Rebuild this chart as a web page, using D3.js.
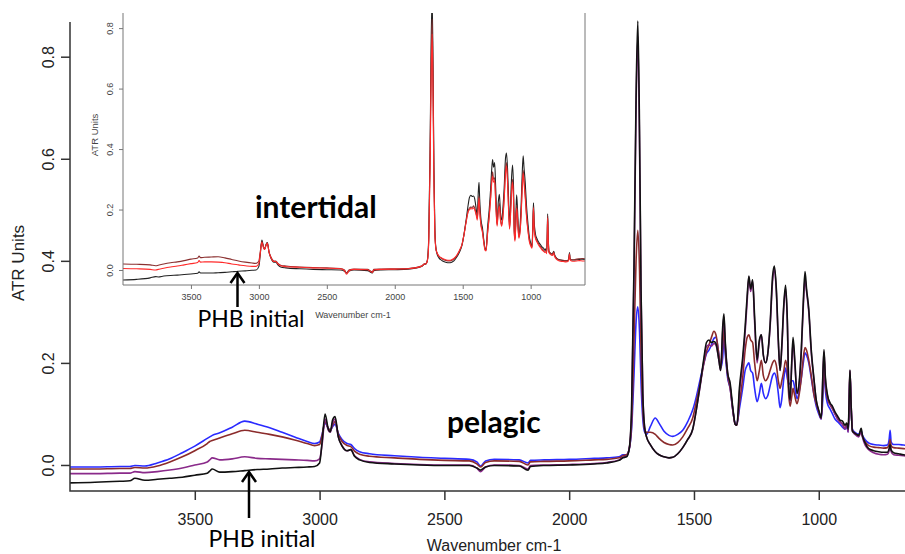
<!DOCTYPE html>
<html>
<head>
<meta charset="utf-8">
<script src="https://cdn.jsdelivr.net/npm/d3@7"></script>
<style>
  body { margin: 0; background: #fff; }
  svg { display: block; }
</style>
</head>
<body>
<div id="chart"></div>
<script>
// FTIR spectra (ATR units vs wavenumber), main = pelagic, inset = intertidal

// shared wavenumber grid (cm-1), 10 per line
const wavenumbers = [
  4000, 3900, 3800, 3760, 3740, 3700, 3650, 3600, 3550, 3500,
  3450, 3440, 3430, 3400, 3350, 3300, 3250, 3200, 3150, 3100,
  3050, 3020, 3000, 2990, 2978, 2965, 2957, 2948, 2938, 2925,
  2910, 2890, 2875, 2860, 2840, 2800, 2700, 2600, 2500, 2400,
  2370, 2355, 2335, 2300, 2200, 2165, 2155, 2100, 2000, 1900,
  1850, 1800, 1785, 1770, 1760, 1750, 1740, 1732, 1725, 1718,
  1712, 1705, 1698, 1690, 1675, 1655, 1640, 1620, 1600, 1585,
  1565, 1545, 1525, 1505, 1490, 1475, 1460, 1450, 1440, 1430,
  1420, 1412, 1400, 1393, 1385, 1380, 1375, 1365, 1355, 1345,
  1335, 1328, 1318, 1305, 1295, 1287, 1280, 1273, 1265, 1257,
  1247, 1238, 1230, 1222, 1213, 1205, 1195, 1185, 1178, 1170,
  1162, 1155, 1148, 1140, 1133, 1126, 1120, 1115, 1108, 1103,
  1096, 1087, 1078, 1070, 1062, 1055, 1049, 1040, 1030, 1020,
  1010, 1000, 990, 983, 979, 974, 965, 955, 945, 935,
  925, 915, 905, 895, 888, 882, 878, 875, 871, 865,
  855, 840, 830, 826, 815, 800, 780, 760, 740, 725,
  718, 714, 710, 700, 680, 660, 640, 620, 600
];

// main plot (pelagic)
const pelagicBlue = [
  -0.004, -0.004, -0.003, -0.003, -0.001, -0.002, 0.004, 0.012, 0.024, 0.037,
  0.052, 0.055, 0.058, 0.063, 0.074, 0.086, 0.080, 0.073, 0.064, 0.055,
  0.046, 0.042, 0.045, 0.060, 0.082, 0.072, 0.068, 0.075, 0.080, 0.062,
  0.050, 0.042, 0.040, 0.032, 0.026, 0.022, 0.018, 0.015, 0.013, 0.011,
  0.006, -0.002, 0.008, 0.011, 0.010, 0.004, 0.009, 0.010, 0.011, 0.013,
  0.014, 0.016, 0.020, 0.020, 0.030, 0.070, 0.180, 0.280, 0.310, 0.260,
  0.160, 0.090, 0.065, 0.060, 0.075, 0.092, 0.082, 0.066, 0.058, 0.056,
  0.060, 0.068, 0.085, 0.108, 0.135, 0.168, 0.200, 0.218, 0.225, 0.235,
  0.248, 0.250, 0.215, 0.190, 0.210, 0.250, 0.220, 0.170, 0.150, 0.110,
  0.082, 0.080, 0.110, 0.150, 0.185, 0.195, 0.200, 0.185, 0.180, 0.150,
  0.124, 0.140, 0.160, 0.140, 0.130, 0.135, 0.155, 0.175, 0.180, 0.170,
  0.140, 0.112, 0.130, 0.170, 0.190, 0.170, 0.158, 0.160, 0.165, 0.165,
  0.150, 0.130, 0.145, 0.170, 0.200, 0.220, 0.215, 0.200, 0.170, 0.140,
  0.115, 0.100, 0.090, 0.140, 0.200, 0.150, 0.120, 0.110, 0.100, 0.090,
  0.085, 0.080, 0.074, 0.070, 0.075, 0.065, 0.110, 0.180, 0.120, 0.070,
  0.064, 0.060, 0.068, 0.060, 0.050, 0.043, 0.040, 0.039, 0.038, 0.039,
  0.050, 0.068, 0.045, 0.040, 0.040, 0.039, 0.038, 0.038, 0.037
];
const pelagicBrown = [
  -0.008, -0.008, -0.007, -0.007, -0.005, -0.006, -0.002, 0.006, 0.016, 0.028,
  0.042, 0.046, 0.048, 0.053, 0.061, 0.068, 0.064, 0.060, 0.055, 0.049,
  0.042, 0.038, 0.040, 0.058, 0.085, 0.072, 0.068, 0.078, 0.085, 0.060,
  0.046, 0.038, 0.036, 0.027, 0.021, 0.017, 0.014, 0.011, 0.009, 0.008,
  0.002, -0.004, 0.005, 0.008, 0.007, 0.000, 0.006, 0.007, 0.008, 0.010,
  0.011, 0.014, 0.018, 0.020, 0.030, 0.080, 0.250, 0.400, 0.460, 0.380,
  0.220, 0.110, 0.070, 0.064, 0.064, 0.060, 0.052, 0.044, 0.040, 0.039,
  0.044, 0.055, 0.072, 0.092, 0.125, 0.160, 0.200, 0.222, 0.235, 0.250,
  0.262, 0.255, 0.215, 0.190, 0.230, 0.270, 0.230, 0.175, 0.150, 0.110,
  0.080, 0.078, 0.120, 0.170, 0.225, 0.250, 0.255, 0.245, 0.240, 0.200,
  0.165, 0.185, 0.205, 0.175, 0.165, 0.170, 0.185, 0.200, 0.205, 0.195,
  0.165, 0.150, 0.165, 0.185, 0.205, 0.185, 0.135, 0.115, 0.135, 0.150,
  0.135, 0.120, 0.140, 0.170, 0.210, 0.230, 0.225, 0.205, 0.175, 0.140,
  0.120, 0.105, 0.092, 0.160, 0.215, 0.160, 0.130, 0.118, 0.110, 0.100,
  0.092, 0.085, 0.080, 0.072, 0.080, 0.068, 0.120, 0.183, 0.125, 0.068,
  0.062, 0.058, 0.066, 0.058, 0.046, 0.038, 0.035, 0.034, 0.033, 0.034,
  0.040, 0.050, 0.038, 0.034, 0.033, 0.032, 0.031, 0.030, 0.030
];
const pelagicPurple = [
  -0.017, -0.017, -0.016, -0.016, -0.013, -0.015, -0.013, -0.010, -0.006, 0.000,
  0.006, 0.010, 0.014, 0.010, 0.012, 0.016, 0.013, 0.012, 0.011, 0.010,
  0.009, 0.008, 0.012, 0.040, 0.090, 0.068, 0.064, 0.082, 0.090, 0.055,
  0.038, 0.028, 0.030, 0.018, 0.011, 0.006, 0.003, 0.001, 0.000, 0.000,
  -0.006, -0.013, -0.004, 0.000, -0.001, -0.008, -0.001, 0.000, 0.001, 0.003,
  0.005, 0.010, 0.015, 0.017, 0.030, 0.100, 0.380, 0.700, 0.840, 0.620,
  0.330, 0.140, 0.075, 0.055, 0.040, 0.026, 0.020, 0.016, 0.014, 0.015,
  0.022, 0.034, 0.050, 0.070, 0.110, 0.155, 0.205, 0.232, 0.235, 0.233,
  0.238, 0.235, 0.205, 0.185, 0.260, 0.290, 0.240, 0.180, 0.155, 0.110,
  0.080, 0.078, 0.140, 0.200, 0.260, 0.320, 0.368, 0.340, 0.360, 0.280,
  0.200, 0.240, 0.255, 0.215, 0.200, 0.215, 0.270, 0.360, 0.385, 0.340,
  0.240, 0.185, 0.230, 0.310, 0.345, 0.280, 0.150, 0.125, 0.200, 0.240,
  0.200, 0.140, 0.160, 0.220, 0.310, 0.365, 0.340, 0.300, 0.220, 0.170,
  0.125, 0.105, 0.090, 0.180, 0.222, 0.170, 0.135, 0.120, 0.112, 0.100,
  0.090, 0.084, 0.080, 0.070, 0.080, 0.064, 0.130, 0.185, 0.125, 0.066,
  0.060, 0.055, 0.065, 0.056, 0.040, 0.030, 0.024, 0.021, 0.020, 0.021,
  0.028, 0.038, 0.026, 0.020, 0.019, 0.018, 0.017, 0.016, 0.016
];
const pelagicInitial = [
  -0.035, -0.034, -0.032, -0.031, -0.026, -0.030, -0.028, -0.026, -0.024, -0.020,
  -0.016, -0.012, -0.008, -0.014, -0.013, -0.011, -0.009, -0.008, -0.006, -0.005,
  -0.004, -0.003, 0.004, 0.045, 0.100, 0.070, 0.065, 0.088, 0.095, 0.055,
  0.037, 0.028, 0.030, 0.017, 0.010, 0.005, 0.002, 0.000, -0.001, -0.001,
  -0.006, -0.010, -0.004, -0.001, -0.002, -0.010, -0.003, -0.001, 0.000, 0.002,
  0.004, 0.009, 0.014, 0.016, 0.030, 0.110, 0.400, 0.720, 0.870, 0.650,
  0.340, 0.140, 0.075, 0.055, 0.040, 0.026, 0.020, 0.016, 0.014, 0.015,
  0.022, 0.034, 0.050, 0.070, 0.110, 0.158, 0.210, 0.240, 0.245, 0.240,
  0.242, 0.238, 0.205, 0.185, 0.270, 0.296, 0.245, 0.180, 0.160, 0.115,
  0.080, 0.078, 0.150, 0.210, 0.270, 0.330, 0.370, 0.345, 0.363, 0.290,
  0.206, 0.245, 0.255, 0.215, 0.200, 0.215, 0.275, 0.370, 0.390, 0.345,
  0.245, 0.185, 0.235, 0.315, 0.352, 0.285, 0.150, 0.127, 0.205, 0.250,
  0.205, 0.140, 0.165, 0.225, 0.320, 0.379, 0.345, 0.305, 0.225, 0.172,
  0.127, 0.107, 0.092, 0.185, 0.226, 0.175, 0.137, 0.122, 0.115, 0.104,
  0.096, 0.088, 0.086, 0.078, 0.082, 0.070, 0.135, 0.186, 0.126, 0.066,
  0.062, 0.058, 0.072, 0.060, 0.044, 0.032, 0.028, 0.026, 0.025, 0.025,
  0.032, 0.040, 0.029, 0.024, 0.022, 0.020, 0.019, 0.018, 0.018
];

// inset (intertidal)
const intertidalDark = [
  0.020, 0.019, 0.017, 0.014, 0.016, 0.020, 0.024, 0.027, 0.031, 0.036,
  0.040, 0.046, 0.041, 0.042, 0.043, 0.044, 0.040, 0.035, 0.030, 0.026,
  0.023, 0.022, 0.030, 0.060, 0.095, 0.075, 0.070, 0.082, 0.090, 0.060,
  0.042, 0.030, 0.030, 0.022, 0.016, 0.013, 0.010, 0.008, 0.007, 0.005,
  0.000, -0.010, 0.001, 0.003, 0.002, -0.006, 0.002, 0.003, 0.004, 0.005,
  0.008, 0.014, 0.020, 0.022, 0.032, 0.100, 0.380, 0.700, 0.830, 0.620,
  0.320, 0.130, 0.075, 0.058, 0.045, 0.038, 0.034, 0.031, 0.030, 0.031,
  0.036, 0.046, 0.062, 0.085, 0.118, 0.160, 0.195, 0.205, 0.208, 0.207,
  0.212, 0.205, 0.185, 0.170, 0.220, 0.245, 0.200, 0.150, 0.130, 0.095,
  0.068, 0.066, 0.120, 0.180, 0.240, 0.295, 0.325, 0.300, 0.305, 0.230,
  0.150, 0.200, 0.220, 0.170, 0.150, 0.175, 0.240, 0.330, 0.355, 0.300,
  0.200, 0.140, 0.190, 0.270, 0.300, 0.240, 0.120, 0.100, 0.170, 0.215,
  0.170, 0.110, 0.130, 0.190, 0.280, 0.330, 0.300, 0.250, 0.180, 0.135,
  0.100, 0.085, 0.075, 0.150, 0.210, 0.140, 0.110, 0.098, 0.090, 0.082,
  0.076, 0.070, 0.066, 0.062, 0.065, 0.058, 0.110, 0.180, 0.110, 0.062,
  0.056, 0.052, 0.060, 0.052, 0.042, 0.036, 0.033, 0.032, 0.031, 0.032,
  0.042, 0.055, 0.038, 0.034, 0.034, 0.036, 0.037, 0.038, 0.037
];
const intertidalRed = [
  0.005, 0.004, 0.002, 0.000, 0.002, 0.006, 0.010, 0.013, 0.017, 0.021,
  0.025, 0.031, 0.026, 0.027, 0.027, 0.026, 0.024, 0.020, 0.017, 0.014,
  0.012, 0.012, 0.022, 0.055, 0.092, 0.072, 0.068, 0.080, 0.088, 0.058,
  0.040, 0.028, 0.028, 0.020, 0.014, 0.011, 0.009, 0.007, 0.006, 0.004,
  -0.002, -0.014, -0.002, 0.002, 0.001, -0.008, 0.000, 0.002, 0.003, 0.004,
  0.007, 0.013, 0.019, 0.021, 0.030, 0.090, 0.340, 0.640, 0.780, 0.560,
  0.290, 0.120, 0.072, 0.058, 0.046, 0.040, 0.036, 0.033, 0.032, 0.033,
  0.038, 0.048, 0.064, 0.085, 0.118, 0.158, 0.192, 0.200, 0.203, 0.202,
  0.206, 0.200, 0.180, 0.165, 0.210, 0.238, 0.195, 0.145, 0.125, 0.090,
  0.065, 0.063, 0.115, 0.175, 0.232, 0.285, 0.310, 0.290, 0.295, 0.220,
  0.145, 0.195, 0.210, 0.165, 0.145, 0.170, 0.232, 0.318, 0.345, 0.290,
  0.192, 0.135, 0.180, 0.260, 0.290, 0.230, 0.115, 0.095, 0.165, 0.205,
  0.165, 0.105, 0.125, 0.180, 0.270, 0.320, 0.290, 0.240, 0.175, 0.130,
  0.095, 0.080, 0.072, 0.145, 0.205, 0.135, 0.105, 0.094, 0.085, 0.078,
  0.072, 0.066, 0.062, 0.058, 0.060, 0.054, 0.105, 0.172, 0.105, 0.058,
  0.052, 0.048, 0.056, 0.048, 0.038, 0.032, 0.029, 0.028, 0.027, 0.028,
  0.038, 0.052, 0.034, 0.030, 0.029, 0.030, 0.031, 0.030, 0.030
];
const intertidalInitial = [
  -0.033, -0.031, -0.026, -0.022, -0.023, -0.020, -0.018, -0.017, -0.015, -0.013,
  -0.011, -0.006, -0.010, -0.010, -0.010, -0.009, -0.008, -0.006, -0.004, -0.003,
  -0.001, 0.000, 0.012, 0.050, 0.099, 0.074, 0.069, 0.084, 0.091, 0.058,
  0.038, 0.026, 0.026, 0.017, 0.010, 0.007, 0.004, 0.002, 0.001, 0.000,
  -0.004, -0.010, -0.003, 0.000, -0.002, -0.010, -0.002, 0.000, 0.001, 0.003,
  0.006, 0.012, 0.018, 0.020, 0.032, 0.110, 0.400, 0.760, 0.900, 0.660,
  0.340, 0.140, 0.075, 0.055, 0.040, 0.032, 0.028, 0.025, 0.024, 0.025,
  0.030, 0.042, 0.058, 0.082, 0.120, 0.165, 0.215, 0.240, 0.247, 0.243,
  0.245, 0.236, 0.200, 0.180, 0.260, 0.290, 0.235, 0.165, 0.140, 0.100,
  0.070, 0.066, 0.135, 0.200, 0.265, 0.330, 0.365, 0.340, 0.355, 0.270,
  0.155, 0.225, 0.250, 0.190, 0.165, 0.200, 0.270, 0.370, 0.387, 0.335,
  0.230, 0.150, 0.215, 0.310, 0.347, 0.275, 0.130, 0.105, 0.195, 0.249,
  0.195, 0.115, 0.145, 0.215, 0.320, 0.378, 0.340, 0.290, 0.210, 0.155,
  0.110, 0.090, 0.078, 0.170, 0.222, 0.160, 0.120, 0.105, 0.095, 0.088,
  0.082, 0.076, 0.072, 0.066, 0.070, 0.060, 0.120, 0.186, 0.118, 0.060,
  0.056, 0.052, 0.062, 0.054, 0.042, 0.036, 0.033, 0.031, 0.030, 0.031,
  0.044, 0.058, 0.038, 0.033, 0.033, 0.034, 0.035, 0.036, 0.035
];

const xTicks = [3500, 3000, 2500, 2000, 1500, 1000];
const yTicks = [0.0, 0.2, 0.4, 0.6, 0.8];

const mainSeries = [
  { name: 'blue', values: pelagicBlue, color: '#2a2aff' },
  { name: 'brown', values: pelagicBrown, color: '#8b2b2b' },
  { name: 'purple', values: pelagicPurple, color: '#8a2a8a' },
  { name: 'initial', values: pelagicInitial, color: '#111' }
];
const insetSeries = [
  { name: 'initial', values: intertidalInitial, color: '#222' },
  { name: 'dark', values: intertidalDark, color: '#8a2f2f' },
  { name: 'red', values: intertidalRed, color: '#ff2a2a' }
];

(function() {
  const W = 905, H = 554;
  const svg = d3.select('#chart').append('svg')
    .attr('width', W).attr('height', H)
    .style('font-family', '"Liberation Sans", Arial, sans-serif');

  const arrowLine = function(g, x0, yTail, yTip) {
    g.append('line').attr('x1', x0).attr('x2', x0).attr('y1', yTail).attr('y2', yTip + 1)
      .attr('stroke', '#000').attr('stroke-width', 2.5);
    g.append('path')
      .attr('d', `M${x0 - 7},${yTip + 10} L${x0},${yTip} L${x0 + 7},${yTip + 10}`)
      .attr('fill', 'none').attr('stroke', '#000').attr('stroke-width', 2.5);
  };

  // ---------- main plot ----------
  const plot = { left: 70, right: 905, top: 22, bottom: 491 };
  const x = d3.scaleLinear().domain([4000, 600]).range([70, 918.6]);
  const y = d3.scaleLinear().domain([-0.051, 0.868]).range([plot.bottom, plot.top]);

  svg.append('clipPath').attr('id', 'clip-main')
    .append('rect').attr('x', plot.left).attr('y', plot.top - 2)
    .attr('width', plot.right - plot.left).attr('height', plot.bottom - plot.top + 2);

  const line = d3.line()
    .x((d, i) => x(wavenumbers[i]))
    .y(d => y(d))
    .curve(d3.curveMonotoneX);

  svg.append('g').attr('clip-path', 'url(#clip-main)')
    .selectAll('path')
    .data(mainSeries)
    .enter()
    .append('path')
    .attr('d', d => line(d.values))
    .attr('fill', 'none')
    .attr('stroke', d => d.color)
    .attr('stroke-width', 1.6)
    .attr('stroke-linejoin', 'round');

  // L-shaped frame
  svg.append('path')
    .attr('d', `M${plot.left},${plot.top} V${plot.bottom} H${plot.right}`)
    .attr('fill', 'none').attr('stroke', '#333').attr('stroke-width', 1.5);

  const xAxis = svg.append('g')
    .attr('transform', `translate(0, ${plot.bottom})`)
    .call(d3.axisBottom(x).tickValues(xTicks).tickSize(9).tickPadding(14).tickFormat(d3.format('d')));
  xAxis.select('.domain').remove();
  xAxis.selectAll('line').attr('stroke', '#333').attr('stroke-width', 1.5);
  xAxis.selectAll('text').style('font-size', '16px').attr('fill', '#222')
    .style('font-family', '"Liberation Sans", Arial, sans-serif');

  const yAxis = svg.append('g')
    .attr('transform', `translate(${plot.left}, 0)`)
    .call(d3.axisLeft(y).tickValues(yTicks).tickSize(9).tickFormat(d3.format('.1f')));
  yAxis.select('.domain').remove();
  yAxis.selectAll('line').attr('stroke', '#333').attr('stroke-width', 1.5);
  yAxis.selectAll('text')
    .attr('transform', 'rotate(-90)')
    .attr('x', 0).attr('y', -16).attr('dy', 0)
    .style('text-anchor', 'middle')
    .style('font-size', '16px').attr('fill', '#222')
    .style('font-family', '"Liberation Sans", Arial, sans-serif');

  svg.append('text')
    .attr('x', 494).attr('y', 551)
    .attr('text-anchor', 'middle')
    .style('font-size', '16px').attr('fill', '#222')
    .text('Wavenumber cm-1');

  svg.append('text')
    .attr('transform', 'translate(24, 263) rotate(-90)')
    .attr('text-anchor', 'middle')
    .style('font-size', '17px').attr('fill', '#222')
    .text('ATR Units');

  svg.append('text')
    .attr('x', 447).attr('y', 433)
    .style('font-family', 'Lato, "Open Sans", sans-serif')
    .style('font-weight', 'bold').style('font-size', '30px')
    .attr('fill', '#000')
    .text('pelagic');

  arrowLine(svg, 249, 518, 472);
  svg.append('text')
    .attr('x', 262).attr('y', 547)
    .attr('text-anchor', 'middle')
    .style('font-family', 'Lato, "Open Sans", sans-serif')
    .style('font-size', '23px').attr('fill', '#000')
    .text('PHB initial');

  // ---------- inset ----------
  const inset = svg.append('g');
  inset.append('rect').attr('x', 93).attr('y', 0).attr('width', 497).attr('height', 337)
    .attr('fill', '#fff');

  const ip = { left: 123, right: 585, top: 13, bottom: 285 };
  const xi = d3.scaleLinear().domain([4000, 600]).range([ip.left, ip.right]);
  const yi = d3.scaleLinear().domain([-0.0496, 0.85]).range([ip.bottom, ip.top]);

  svg.append('clipPath').attr('id', 'clip-inset')
    .append('rect').attr('x', ip.left).attr('y', ip.top)
    .attr('width', ip.right - ip.left).attr('height', ip.bottom - ip.top);

  const lineI = d3.line()
    .x((d, i) => xi(wavenumbers[i]))
    .y(d => yi(d))
    .curve(d3.curveMonotoneX);

  inset.append('g').attr('clip-path', 'url(#clip-inset)')
    .selectAll('path')
    .data(insetSeries)
    .enter()
    .append('path')
    .attr('d', d => lineI(d.values))
    .attr('fill', 'none')
    .attr('stroke', d => d.color)
    .attr('stroke-width', 1.1)
    .attr('stroke-linejoin', 'round');

  inset.append('path')
    .attr('d', `M${ip.left},${ip.top} V${ip.bottom} H${ip.right} V${ip.top}`)
    .attr('fill', 'none').attr('stroke', '#777').attr('stroke-width', 1);

  const xAxisI = inset.append('g')
    .attr('transform', `translate(0, ${ip.bottom})`)
    .call(d3.axisBottom(xi).tickValues(xTicks).tickSize(4).tickPadding(5).tickFormat(d3.format('d')));
  xAxisI.select('.domain').remove();
  xAxisI.selectAll('line').attr('stroke', '#777');
  xAxisI.selectAll('text').style('font-size', '9px').attr('fill', '#444')
    .style('font-family', '"Liberation Sans", Arial, sans-serif');

  const yAxisI = inset.append('g')
    .attr('transform', `translate(${ip.left}, 0)`)
    .call(d3.axisLeft(yi).tickValues(yTicks).tickSize(4).tickFormat(d3.format('.1f')));
  yAxisI.select('.domain').remove();
  yAxisI.selectAll('line').attr('stroke', '#777');
  yAxisI.selectAll('text')
    .attr('transform', 'rotate(-90)')
    .attr('x', 0).attr('y', -10).attr('dy', 0)
    .style('text-anchor', 'middle')
    .style('font-size', '9px').attr('fill', '#444')
    .style('font-family', '"Liberation Sans", Arial, sans-serif');

  inset.append('text')
    .attr('x', 353).attr('y', 318)
    .attr('text-anchor', 'middle')
    .style('font-size', '9px').attr('fill', '#444')
    .text('Wavenumber cm-1');

  inset.append('text')
    .attr('transform', 'translate(98, 135) rotate(-90)')
    .attr('text-anchor', 'middle')
    .style('font-size', '9.5px').attr('fill', '#444')
    .text('ATR Units');

  inset.append('text')
    .attr('x', 255).attr('y', 218)
    .style('font-family', 'Lato, "Open Sans", sans-serif')
    .style('font-weight', 'bold').style('font-size', '30px')
    .attr('fill', '#000')
    .text('intertidal');

  arrowLine(inset, 237.5, 307, 273);
  inset.append('text')
    .attr('x', 251).attr('y', 327)
    .attr('text-anchor', 'middle')
    .style('font-family', 'Lato, "Open Sans", sans-serif')
    .style('font-size', '23px').attr('fill', '#000')
    .text('PHB initial');
})();
</script>
</body>
</html>
